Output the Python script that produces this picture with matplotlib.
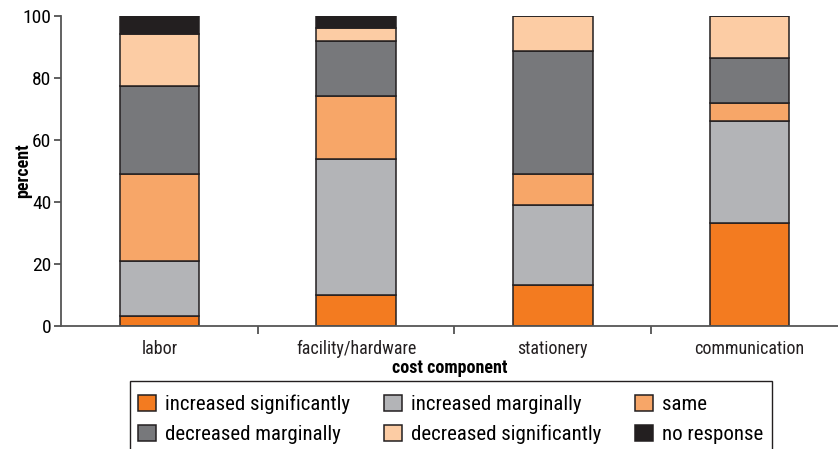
import numpy as np
import matplotlib
matplotlib.use('Agg')
import matplotlib.pyplot as plt
from matplotlib import font_manager
from matplotlib.patches import Rectangle

# narrow font like the reference, if one is installed
names = set(f.name for f in font_manager.fontManager.ttflist)
narrow = [n for n in ['Liberation Sans Narrow', 'Roboto Condensed', 'DejaVu Sans'] if n in names]
plt.rcParams['font.family'] = narrow + ['DejaVu Sans']
plt.rcParams['font.stretch'] = 'condensed'

# data (percent)
categories = ['labor', 'facility/hardware', 'stationery', 'communication']
series_names = ['increased significantly', 'increased marginally', 'same',
                'decreased marginally', 'decreased significantly', 'no response']
inc_sig = [3.2, 10.0, 13.2, 33.3]
inc_marg = [17.9, 44.0, 25.7, 32.9]
same = [27.9, 20.1, 10.1, 5.6]
dec_marg = [28.4, 17.9, 39.6, 14.7]
dec_sig = [16.7, 4.2, 11.4, 13.5]
no_resp = [5.9, 3.8, 0.0, 0.0]
colors = ['#F37B20', '#B3B4B7', '#F7A668', '#77787B', '#FCCCA4', '#231F20']

fig = plt.figure(figsize=(8.38, 4.49), dpi=100)
ax = fig.add_axes([61/838, 1-326/449, 1-61/838, 310/449])

x = np.arange(len(categories))
bottom = np.zeros(len(categories))
handles = []
for vals, name, c in zip([inc_sig, inc_marg, same, dec_marg, dec_sig, no_resp], series_names, colors):
    b = ax.bar(x, vals, width=0.405, bottom=bottom, color=c, edgecolor='#231F20',
               linewidth=1.1, label=name)
    bottom += np.array(vals)
    handles.append(b)

ax.set_xlim(-0.5, 3.45)
ax.set_ylim(0, 100)
ax.set_yticks([0, 20, 40, 60, 80, 100])
ax.set_xticks(x)
ax.set_xticks([0.5, 1.5, 2.5], minor=True)
ax.set_xticklabels(categories)
ax.tick_params(axis='x', which='major', length=0, pad=10, labelsize=13, colors='#231F20')
ax.tick_params(axis='x', which='minor', length=6, width=1.2, color='#444444')
ax.tick_params(axis='y', length=5, width=1.2, color='#444444', labelsize=14, pad=2)
for s in ['top', 'right']:
    ax.spines[s].set_visible(False)
for s in ['left', 'bottom']:
    ax.spines[s].set_color('#555555')
    ax.spines[s].set_linewidth(1.3)

ax.set_ylabel('percent', fontweight='bold', fontsize=13)
ax.set_xlabel('cost component', fontweight='bold', fontsize=13)
ax.yaxis.set_label_coords(-0.037, 0.5)
ax.xaxis.set_label_coords(0.5, -0.105)

# legend box runs off the bottom edge in the reference
fig.patches.append(Rectangle((130/838, -0.05), 642/838, 0.05 + 1-381/449,
                             transform=fig.transFigure, fill=False,
                             edgecolor='#231F20', linewidth=1.0))

# legend is filled column-first, reorder so rows read left to right
order = [0, 3, 1, 4, 2, 5]
leg = fig.legend([handles[i] for i in order], [series_names[i] for i in order],
                 loc='upper left', bbox_to_anchor=(130/838, 1-391/449, 642/838, 0.01),
                 mode='expand', ncol=3, fontsize=15, frameon=False,
                 handlelength=0.85, handleheight=0.85,
                 handletextpad=0.45, labelspacing=0.5, borderaxespad=0, borderpad=0.4)

fig.savefig('out.png', dpi=100)
